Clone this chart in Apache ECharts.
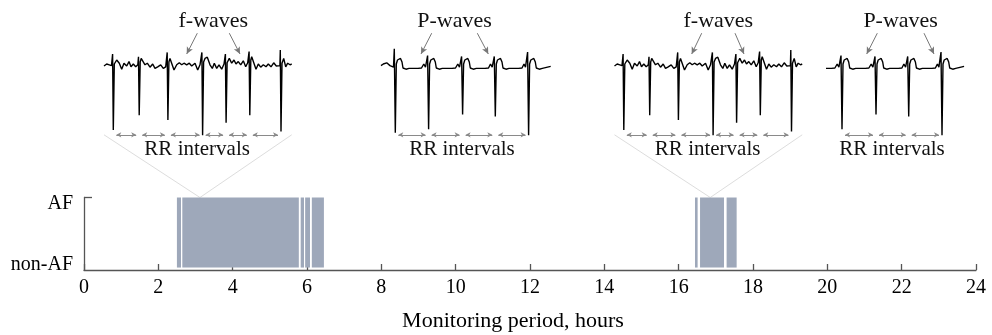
<!DOCTYPE html>
<html><head><meta charset="utf-8">
<script src="https://cdn.jsdelivr.net/npm/echarts@6/dist/echarts.min.js"></script>
<style>html,body{margin:0;padding:0;background:#fff}#c{width:992px;height:335px}</style>
</head><body><div id="c"></div>
<script>
// ---------- data ----------
// AF episodes (hours)
const afStart = [2.50, 2.645, 5.83, 5.95, 6.13, 16.44, 16.575, 17.29];
const afEnd   = [2.61, 5.78, 5.92, 6.08, 6.455, 16.51, 17.22, 17.56];
const stateLabels = ['non-AF', 'AF'];
const xAxisName = 'Monitoring period, hours';
// hours at which the AF inset strips were taken
const insetHours = [3.12, 16.85];

// ECG strip during AF: [time s, amplitude mV]
const afStrip = [
 [0.000,0.00],[0.054,0.05],[0.106,0.03],[0.150,0.01],
 [0.172,0.30],[0.186,-1.60],[0.206,0.05],[0.254,0.15],[0.306,0.07],[0.354,-0.08],[0.400,0.07],[0.454,0.00],[0.500,0.11],[0.540,-0.02],[0.586,0.05],[0.634,-0.02],[0.676,0.03],
 [0.690,0.23],[0.704,-1.23],[0.724,0.10],[0.744,0.19],[0.774,0.22],[0.820,0.03],[0.866,0.07],[0.920,-0.03],[0.974,0.05],[1.020,-0.06],[1.074,-0.02],[1.134,0.03],[1.186,-0.06],[1.234,-0.02],[1.256,0.03],
 [1.264,0.34],[1.278,-1.35],[1.298,0.10],[1.320,0.19],[1.354,0.15],[1.400,-0.10],[1.454,0.03],[1.506,0.08],[1.554,0.03],[1.600,0.07],[1.654,0.03],[1.706,0.07],[1.754,0.00],[1.820,0.07],[1.874,-0.10],[1.920,0.03],[1.950,0.01],
 [1.958,0.34],[1.972,-1.73],[1.992,0.10],[2.020,0.19],[2.066,0.22],[2.120,0.03],[2.166,-0.06],[2.206,0.07],[2.254,-0.06],[2.300,0.03],[2.354,-0.08],[2.400,0.05],[2.420,0.03],
 [2.428,0.30],[2.442,-1.42],[2.462,0.08],[2.506,0.19],[2.554,0.07],[2.600,0.15],[2.640,0.05],[2.686,0.11],[2.734,0.03],[2.786,0.13],[2.834,-0.02],[2.874,0.08],[2.894,0.05],
 [2.902,0.36],[2.916,-1.23],[2.936,0.15],[2.954,0.23],[2.994,0.19],[3.040,-0.08],[3.086,0.05],[3.134,-0.03],[3.186,0.03],[3.240,-0.02],[3.286,0.05],[3.340,-0.02],[3.394,0.08],[3.446,0.00],[3.486,0.05],[3.518,0.01],
 [3.526,0.40],[3.540,-1.64],[3.560,0.07],[3.594,0.19],[3.634,-0.02],[3.674,0.07],[3.720,0.03],[3.754,0.05]
];
const afBeats = [0.186, 0.704, 1.278, 1.972, 2.442, 2.916, 3.540];

// ECG strip in sinus rhythm: [time s, amplitude mV]
const sinusStrip = [
 [0.000,0.01],[0.046,0.05],[0.080,0.00],[0.114,0.08],[0.146,0.10],[0.180,0.01],[0.220,0.03],[0.250,-0.03],
 [0.266,0.43],[0.286,-1.67],[0.306,0.05],[0.330,0.15],[0.360,0.20],[0.390,0.19],[0.420,0.10],[0.440,-0.05],[0.470,-0.10],[0.500,-0.08],[0.560,-0.06],
 [0.740,-0.06],[0.810,-0.05],[0.856,0.05],[0.890,-0.03],[0.920,-0.04],
 [0.932,0.26],[0.952,-1.58],[0.972,0.05],[0.996,0.15],[1.026,0.20],[1.056,0.19],[1.086,0.10],[1.106,-0.05],[1.136,-0.10],[1.166,-0.08],[1.226,-0.06],
 [1.420,-0.06],[1.490,-0.05],[1.536,0.05],[1.570,-0.03],[1.600,-0.04],
 [1.612,0.24],[1.632,-1.21],[1.652,0.05],[1.676,0.15],[1.706,0.20],[1.736,0.19],[1.766,0.10],[1.786,-0.05],[1.816,-0.10],[1.846,-0.08],[1.906,-0.06],
 [2.080,-0.06],[2.150,-0.05],[2.190,0.05],[2.224,-0.03],[2.254,-0.04],
 [2.266,0.24],[2.286,-1.26],[2.306,0.05],[2.330,0.15],[2.360,0.20],[2.390,0.19],[2.420,0.10],[2.440,-0.05],[2.470,-0.10],[2.500,-0.08],[2.560,-0.06],
 [2.750,-0.06],[2.820,-0.05],[2.860,0.05],[2.890,-0.03],[2.920,-0.04],
 [2.932,0.35],[2.952,-1.73],[2.972,0.05],[2.996,0.15],[3.026,0.20],[3.056,0.19],[3.086,0.10],[3.106,-0.05],[3.136,-0.10],[3.166,-0.08],[3.226,-0.06],
 [3.394,-0.01]
];
const sinusBeats = [0.286, 0.952, 1.632, 2.286, 2.952];

// inset panels: which strip and which time window (s)
const panelStrip = ['af', 'sinus', 'af', 'sinus'];
const panelWindows = [[0, 3.754], [0, 3.394], [0, 3.754], [0.658, 3.394]];
const panelTitles = ['f-waves', 'P-waves', 'f-waves', 'P-waves'];
const rrLabel = 'RR intervals';
// pointer arrows (strip coordinates: s, mV)
const pointerFrom = [
 [[1.866,0.82],[2.506,0.82]],
 [[1.014,0.82],[1.926,0.82]],
 [[1.744,0.82],[2.410,0.82]],
 [[1.658,0.82],[2.592,0.82]]
];
const pointerTo = [
 [[1.654,0.30],[2.720,0.30]],
 [[0.800,0.30],[2.146,0.30]],
 [[1.544,0.30],[2.590,0.30]],
 [[1.446,0.30],[2.792,0.30]]
];

// ---------- layout / style ----------
const FONT = 'Liberation Serif';
const AXIS_COLOR = '#555';
const PX_PER_S = 50, PX_PER_MV = 40, BASE_Y = 66, V_TOP = 1.5, V_BOT = -2.0;
const panelLeft = [104, 381, 614.5, 827.3];
const insetPanels = [0, 2];
const RR_V = -1.72, RR_GAP = 0.06, TITLE_V = 1.125, RRLABEL_V = -2.09;

const grids = [{left: 84, top: 197.5, width: 892, height: 72.5, outerBoundsMode: 'none', containLabel: false}];
const xAxes = [{
  gridIndex: 0, type: 'value', min: 0, max: 24, interval: 2,
  name: xAxisName, nameLocation: 'middle', nameGap: 40,
  nameTextStyle: {fontFamily: FONT, fontSize: 22, color: '#000', padding: [0, 34, 0, 0]},
  axisLine: {onZero: false, lineStyle: {color: AXIS_COLOR, width: 1.3}},
  axisTick: {inside: true, length: 6, lineStyle: {color: AXIS_COLOR, width: 1.3}},
  axisLabel: {fontFamily: FONT, fontSize: 20, color: '#000', margin: 8},
  splitLine: {show: false}
}];
const yAxes = [{
  gridIndex: 0, type: 'value', min: -0.035, max: 1,
  axisLine: {show: true, lineStyle: {color: AXIS_COLOR, width: 1.3}},
  axisTick: {show: true, inside: true, length: 8, customValues: [1], lineStyle: {color: AXIS_COLOR, width: 1.3}},
  axisLabel: {
    customValues: [0, 1], margin: 11,
    formatter: v => (v === 1 ? '{a|' + stateLabels[1] + '}' : '{b|' + stateLabels[0] + '}'),
    rich: {
      a: {fontFamily: FONT, fontSize: 20, color: '#000', padding: [12, 0, 0, 0]},
      b: {fontFamily: FONT, fontSize: 20, color: '#000', padding: [0, 0, 6, 0]}
    }
  },
  splitLine: {show: false}
}];

const series = [{
  type: 'custom', xAxisIndex: 0, yAxisIndex: 0, silent: true,
  data: afStart.map((s, i) => [s, afEnd[i]]),
  encode: {x: [0, 1]},
  renderItem: (params, api) => {
    const p0 = api.coord([api.value(0), 1]);
    const p1 = api.coord([api.value(1), 0]);
    return {type: 'rect', shape: {x: p0[0], y: p0[1], width: p1[0] - p0[0], height: p1[1] - p0[1]},
            style: {fill: '#9ea8ba'}};
  }
}];

panelStrip.forEach((name, i) => {
  const gi = i + 1;
  const [t0, t1] = panelWindows[i];
  const strip = name === 'af' ? afStrip : sinusStrip;
  const beats = (name === 'af' ? afBeats : sinusBeats).filter(b => b >= t0 && b <= t1);
  grids.push({left: panelLeft[i], top: BASE_Y - V_TOP * PX_PER_MV,
              width: (t1 - t0) * PX_PER_S, height: (V_TOP - V_BOT) * PX_PER_MV,
              outerBoundsMode: 'none', containLabel: false});
  xAxes.push({gridIndex: gi, type: 'value', min: t0, max: t1, show: false, splitLine: {show: false}});
  yAxes.push({gridIndex: gi, type: 'value', min: V_BOT, max: V_TOP, show: false, splitLine: {show: false}});
  const ml = [];
  for (let k = 0; k < beats.length - 1; k++) {
    ml.push([
      {coord: [beats[k] + RR_GAP, RR_V], symbol: 'arrow', symbolSize: [4, 5], lineStyle: {color: '#8a8a8a', width: 1, type: 'solid'}},
      {coord: [beats[k + 1] - RR_GAP, RR_V], symbol: 'arrow', symbolSize: [4, 5]}
    ]);
  }
  pointerFrom[i].forEach((f, k) => {
    ml.push([
      {coord: f, symbol: 'none', lineStyle: {color: '#777', width: 1, type: 'solid'}},
      {coord: pointerTo[i][k], symbol: 'arrow', symbolSize: [5, 7]}
    ]);
  });
  series.push({
    type: 'line', xAxisIndex: gi, yAxisIndex: gi, data: strip,
    showSymbol: false, symbol: 'none', silent: true, clip: true,
    lineStyle: {color: '#000', width: 1.4},
    markLine: {silent: true, animation: false, label: {show: false}, data: ml}
  });
});

const chart = echarts.init(document.getElementById('c'), null, {renderer: 'canvas'});
chart.setOption({
  animation: false,
  backgroundColor: '#fff',
  grid: grids, xAxis: xAxes, yAxis: yAxes, series: series
});

// annotations positioned through the axes
const g = [];
insetHours.forEach((h, k) => {
  const pi = insetPanels[k], gi = pi + 1;
  const [t0, t1] = panelWindows[pi];
  const a = chart.convertToPixel({xAxisIndex: gi, yAxisIndex: gi}, [t0, RR_V]);
  const b = chart.convertToPixel({xAxisIndex: gi, yAxisIndex: gi}, [t1, RR_V]);
  const c = chart.convertToPixel({xAxisIndex: 0, yAxisIndex: 0}, [h, 1]);
  [a, b].forEach(p => g.push({type: 'line', z: -10, silent: true,
    shape: {x1: p[0], y1: p[1], x2: c[0], y2: c[1]}, style: {stroke: '#dddddd', lineWidth: 1}}));
});
panelStrip.forEach((name, i) => {
  const gi = i + 1;
  const beats = (name === 'af' ? afBeats : sinusBeats).filter(b => b >= panelWindows[i][0] && b <= panelWindows[i][1]);
  const tc = (pointerFrom[i][0][0] + pointerFrom[i][1][0]) / 2;
  const pt = chart.convertToPixel({xAxisIndex: gi, yAxisIndex: gi}, [tc, TITLE_V]);
  g.push({type: 'text', silent: true, x: pt[0], y: pt[1],
    style: {text: panelTitles[i], font: '22px "' + FONT + '"', fill: '#111', align: 'center', verticalAlign: 'middle'}});
  const rc = (beats[0] + beats[beats.length - 1]) / 2;
  const pr = chart.convertToPixel({xAxisIndex: gi, yAxisIndex: gi}, [rc, RRLABEL_V]);
  g.push({type: 'text', silent: true, x: pr[0], y: pr[1],
    style: {text: rrLabel, font: '21px "' + FONT + '"', fill: '#111', align: 'center', verticalAlign: 'middle'}});
});
chart.setOption({graphic: g});
</script>
</body></html>
